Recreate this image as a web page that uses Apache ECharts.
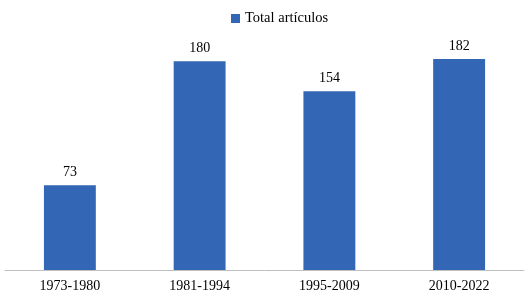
<!DOCTYPE html>
<html><head><meta charset="utf-8">
<script src="https://cdn.jsdelivr.net/npm/echarts@6/dist/echarts.min.js"></script>
<style>html,body{margin:0;padding:0;background:#fff}#c{width:529px;height:297px}</style>
</head><body><div id="c"></div>
<script>
const categories = ['1973-1980', '1981-1994', '1995-2009', '2010-2022'];
const totalArticulos = [73, 180, 154, 182];
const seriesName = 'Total artículos';

const chart = echarts.init(document.getElementById('c'));
const font = '"Liberation Serif", "DejaVu Serif", serif';
chart.setOption({
  animation: false,
  legend: {
    top: 6, left: 226,
    itemWidth: 9, itemHeight: 9, icon: 'rect',
    textStyle: { fontFamily: font, fontSize: 14.5, color: '#000' },
    data: [seriesName]
  },
  grid: { left: 5, right: 5, top: 38, bottom: 27 },
  xAxis: {
    type: 'category', data: categories,
    axisLine: { lineStyle: { color: '#bfbfbf', width: 1 } },
    axisTick: { show: false },
    axisLabel: { fontFamily: font, fontSize: 14, color: '#000', margin: 9 }
  },
  yAxis: { type: 'value', min: 0, max: 200, show: false, splitLine: { show: false } },
  series: [{
    name: seriesName, type: 'bar', data: totalArticulos,
    barWidth: '40%',
    itemStyle: { color: '#3366B5' },
    label: { show: true, position: 'top', distance: 6, fontFamily: font, fontSize: 14, color: '#000' }
  }]
});
</script></body></html>
